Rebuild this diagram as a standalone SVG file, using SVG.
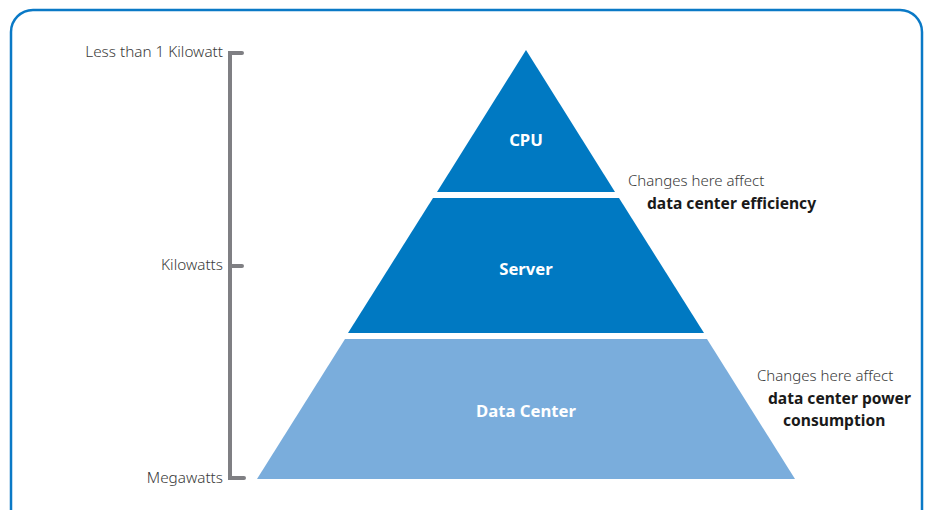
<svg xmlns="http://www.w3.org/2000/svg" width="929" height="510" viewBox="0 0 929 510">
<style>
.lbl{font-family:"Noto Sans","Liberation Sans",sans-serif;font-size:15.3px;fill:#3a3a3a;font-weight:300}
.note{font-family:"Noto Sans","Liberation Sans",sans-serif;font-size:15px;fill:#3a3a3a;font-weight:300}
.bold{font-family:"Noto Sans","Liberation Sans",sans-serif;font-size:15.6px;fill:#1a1a1a;font-weight:700}
.in{font-family:"Noto Sans","Liberation Sans",sans-serif;font-size:16.7px;fill:#ffffff;font-weight:700;text-anchor:middle}
.dark{fill:#0079c2}
.light{fill:#7aaddc}
.brk{stroke:#7f7f83;stroke-width:4;stroke-linecap:round;fill:none}
</style>
<rect x="11" y="10" width="911" height="530" rx="22" ry="22" fill="#ffffff" stroke="#0a79c6" stroke-width="2.5"/>
<g id="scale">
<path class="brk" d="M242,53 H230 V478 H244 M230,266 H242"/>
<text class="lbl" x="223" y="57" text-anchor="end">Less than 1 Kilowatt</text>
<text class="lbl" x="223" y="270" text-anchor="end">Kilowatts</text>
<text class="lbl" x="223" y="483" text-anchor="end">Megawatts</text>
</g>
<g id="cpu">
<polygon class="dark" points="526,50 615,192 437,192"/>
<text class="in" x="526" y="146">CPU</text>
</g>
<g id="server">
<polygon class="dark" points="433,198 619,198 704,333 348,333"/>
<text class="in" x="526" y="275">Server</text>
</g>
<g id="datacenter">
<polygon class="light" points="345,339 707,339 795,479 257,479"/>
<text class="in" x="526" y="417">Data Center</text>
</g>
<g id="note1">
<text class="note" x="628" y="186">Changes here affect</text>
<text class="bold" x="647" y="209">data center efficiency</text>
</g>
<g id="note2">
<text class="note" x="757" y="381">Changes here affect</text>
<text class="bold" x="768" y="404">data center power</text>
<text class="bold" x="783" y="426">consumption</text>
</g>
</svg>
